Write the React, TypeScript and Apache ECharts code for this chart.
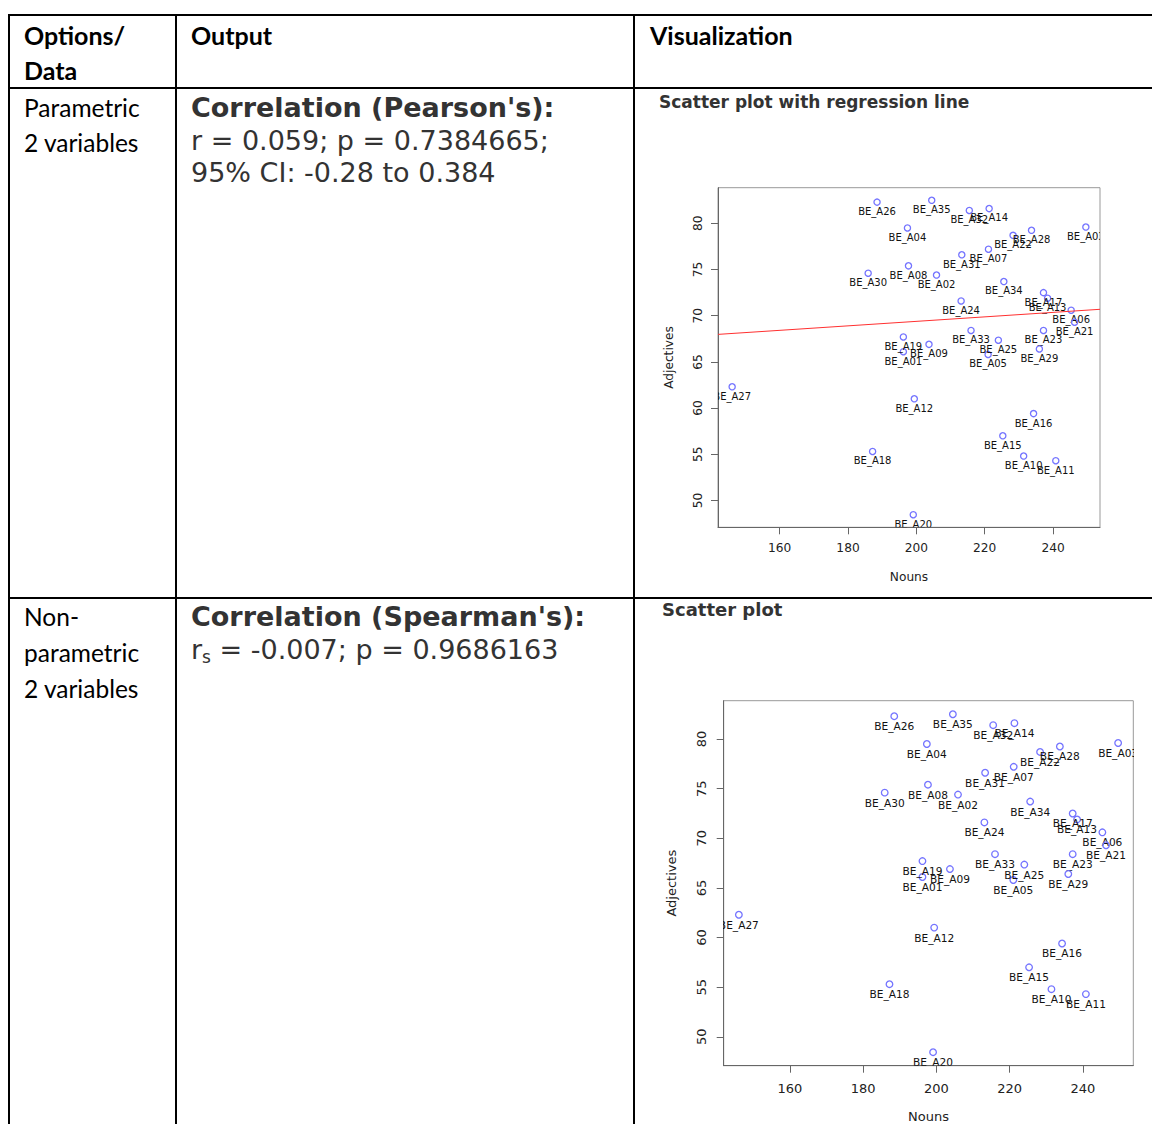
import React, { useEffect, useRef } from "react";
import * as echarts from "echarts";

// ---- data ----
const pointLabels = [
  "BE_A01", "BE_A02", "BE_A03", "BE_A04", "BE_A05", "BE_A06", "BE_A07", "BE_A08", "BE_A09", "BE_A10",
  "BE_A11", "BE_A12", "BE_A13", "BE_A14", "BE_A15", "BE_A16", "BE_A17", "BE_A18", "BE_A19", "BE_A20",
  "BE_A21", "BE_A22", "BE_A23", "BE_A24", "BE_A25", "BE_A26", "BE_A27", "BE_A28", "BE_A29", "BE_A30",
  "BE_A31", "BE_A32", "BE_A33", "BE_A34", "BE_A35",
];
const nouns = [
  196.2, 205.9, 249.6, 197.4, 221.0, 245.3, 221.1, 197.7, 203.7, 231.4,
  240.8, 199.4, 238.4, 221.3, 225.3, 234.3, 237.2, 187.2, 196.2, 199.1,
  246.3, 228.3, 237.2, 213.1, 224.0, 188.5, 146.1, 233.7, 236.0, 185.9,
  213.3, 215.5, 216.0, 225.6, 204.5,
];
const adjectives = [
  66.1, 74.4, 79.6, 79.5, 65.8, 70.6, 77.2, 75.4, 66.9, 54.8,
  54.3, 61.0, 71.9, 81.6, 57.0, 59.4, 72.5, 55.3, 67.7, 48.45,
  69.3, 78.7, 68.4, 71.6, 67.35, 82.3, 62.3, 79.25, 66.4, 74.6,
  76.6, 81.4, 68.4, 73.7, 82.5,
];
const xTicks = [160, 180, 200, 220, 240];
const yTicks = [50, 55, 60, 65, 70, 75, 80];

const headerTexts = ["Options/", "Data"];
const row1Left = ["Parametric", "2 variables"];
const row2Left = ["Non-", "parametric", "2 variables"];

// ---- derived ----
const xMinD = Math.min(...nouns);
const xMaxD = Math.max(...nouns);
const yMinD = Math.min(...adjectives);
const yMaxD = Math.max(...adjectives);
const X_MIN = xMinD - 0.04 * (xMaxD - xMinD);
const X_MAX = xMaxD + 0.04 * (xMaxD - xMinD);
const Y_MIN = yMinD - 0.04 * (yMaxD - yMinD);
const Y_MAX = yMaxD + 0.04 * (yMaxD - yMinD);

const n = nouns.length;
const mx = nouns.reduce((a, b) => a + b, 0) / n;
const my = adjectives.reduce((a, b) => a + b, 0) / n;
let sxy = 0;
let sxx = 0;
for (let i = 0; i < n; i++) {
  sxy += (nouns[i] - mx) * (adjectives[i] - my);
  sxx += (nouns[i] - mx) * (nouns[i] - mx);
}
const slope = sxy / sxx;
const intercept = my - slope * mx;

const points = nouns.map((x, i) => [x, adjectives[i]]);

const DV = '"DejaVu Sans"';

function makeRender(fontSize: number, r: number, off: number) {
  return (params: any, api: any) => {
    const p = api.coord([api.value(0), api.value(1)]);
    return {
      type: "group",
      children: [
        {
          type: "circle",
          shape: { cx: p[0], cy: p[1], r },
          style: { fill: "none", stroke: "#7474ff", lineWidth: 1.3 },
        },
        {
          type: "text",
          x: p[0],
          y: p[1] + off,
          style: {
            text: pointLabels[params.dataIndex],
            fill: "#111",
            font: `${fontSize}px ${DV}`,
            align: "center",
            verticalAlign: "middle",
          },
        },
      ],
    };
  };
}

function xAxisOf(gridIndex: number, fs: number, margin: number, nameGap: number) {
  return {
    type: "value",
    gridIndex,
    min: X_MIN,
    max: X_MAX,
    name: "Nouns",
    nameLocation: "middle",
    nameGap,
    nameTextStyle: { fontFamily: "DejaVu Sans", fontSize: fs, color: "#222" },
    axisLine: { show: true, onZero: false, lineStyle: { color: "#666", width: 1 } },
    axisTick: { show: true, customValues: xTicks, length: 7, lineStyle: { color: "#666" } },
    axisLabel: { customValues: xTicks, fontFamily: "DejaVu Sans", fontSize: fs, color: "#222", margin },
    splitLine: { show: false },
  };
}

function yAxisOf(gridIndex: number, fs: number, margin: number, nameGap: number) {
  return {
    type: "value",
    gridIndex,
    min: Y_MIN,
    max: Y_MAX,
    name: "Adjectives",
    nameLocation: "middle",
    nameGap,
    nameTextStyle: { fontFamily: "DejaVu Sans", fontSize: fs, color: "#222" },
    axisLine: { show: true, onZero: false, lineStyle: { color: "#666", width: 1 } },
    axisTick: { show: true, customValues: yTicks, length: 7, lineStyle: { color: "#666" } },
    axisLabel: { customValues: yTicks, rotate: 90, fontFamily: "DejaVu Sans", fontSize: fs, color: "#222", margin },
    splitLine: { show: false },
  };
}

function hLine(x1: number, x2: number, y: number, w = 2) {
  return { type: "line", shape: { x1, y1: y, x2, y2: y }, style: { stroke: "#000", lineWidth: w } };
}
function vLine(x: number, y1: number, y2: number, w = 2) {
  return { type: "line", shape: { x1: x, y1, x2: x, y2 }, style: { stroke: "#000", lineWidth: w } };
}
function txt(text: string, x: number, y: number, font: string, fill = "#000") {
  return { type: "text", x, y, style: { text, font, fill, verticalAlign: "middle", align: "left" } };
}

export default function App() {
  const ref = useRef<HTMLDivElement>(null);
  useEffect(() => {
    if (!ref.current) return;
    const chart = echarts.init(ref.current, null, { renderer: "svg" });
    const LB = "bold 25px Lato";
    const LR = "24.5px Lato";
    const VB = `bold 27px ${DV}`;
    const VR = `27px ${DV}`;
    const graphics: any[] = [
      hLine(8, 1152, 15),
      hLine(8, 1152, 88),
      hLine(8, 1152, 598),
      vLine(9, 14, 1124),
      vLine(176, 14, 1124),
      vLine(634, 14, 1124),
      txt(headerTexts[0], 24, 35, LB),
      txt(headerTexts[1], 24, 70, LB),
      txt("Output", 191, 35, LB),
      txt("Visualization", 650, 35, LB),
      txt(row1Left[0], 24, 107.5, LR),
      txt(row1Left[1], 24, 142.5, LR),
      txt(row2Left[0], 24, 616.5, LR),
      txt(row2Left[1], 24, 652.5, LR),
      txt(row2Left[2], 24, 688.5, LR),
      txt("Correlation (Pearson's):", 191, 107, VB, "#333"),
      txt("r = 0.059; p = 0.7384665;", 191, 140, VR, "#333"),
      txt("95% CI: -0.28 to 0.384", 191, 172, VR, "#333"),
      txt("Correlation (Spearman's):", 191, 616, VB, "#333"),
      {
        type: "text",
        x: 191,
        y: 649,
        style: {
          text: "{a|r}{b|s}{a| = -0.007; p = 0.9686163}",
          verticalAlign: "middle",
          align: "left",
          rich: {
            a: { font: VR, fill: "#333", lineHeight: 32, verticalAlign: "middle" },
            b: { font: `17px ${DV}`, fill: "#333", lineHeight: 17, verticalAlign: "bottom" },
          },
        },
      },
      txt("Scatter plot with regression line", 659, 102, `bold 17px ${DV}`, "#333"),
      txt("Scatter plot", 662, 609, `bold 18px ${DV}`, "#333"),
    ];

    chart.setOption({
      animation: false,
      backgroundColor: "#fff",
      grid: [
        { left: 718, top: 187.7, width: 382, height: 339.6, show: true, borderColor: "#999", borderWidth: 1, outerBoundsMode: "none", containLabel: false },
        { left: 723.7, top: 700.7, width: 409.6, height: 365, show: true, borderColor: "#999", borderWidth: 1, outerBoundsMode: "none", containLabel: false },
      ],
      xAxis: [xAxisOf(0, 12.2, 14.5, 43.5), xAxisOf(1, 13, 16, 44.5)],
      yAxis: [yAxisOf(0, 12.2, 14.5, 43), yAxisOf(1, 13, 15.5, 46)],
      series: [
        {
          type: "custom",
          xAxisIndex: 0,
          yAxisIndex: 0,
          clip: true,
          renderItem: makeRender(10, 3.1, 9.4),
          data: points,
          silent: true,
        },
        {
          type: "line",
          xAxisIndex: 0,
          yAxisIndex: 0,
          clip: true,
          symbol: "none",
          lineStyle: { color: "#ff3030", width: 1 },
          data: [
            [X_MIN, intercept + slope * X_MIN],
            [X_MAX, intercept + slope * X_MAX],
          ],
          silent: true,
        },
        {
          type: "custom",
          xAxisIndex: 1,
          yAxisIndex: 1,
          clip: true,
          renderItem: makeRender(10.6, 3.3, 10),
          data: points,
          silent: true,
        },
      ],
      graphic: graphics,
    });
    return () => chart.dispose();
  }, []);
  return (
    <div
      ref={ref}
      style={{ position: "absolute", left: 0, top: 0, width: 1152, height: 1124 }}
    />
  );
}
